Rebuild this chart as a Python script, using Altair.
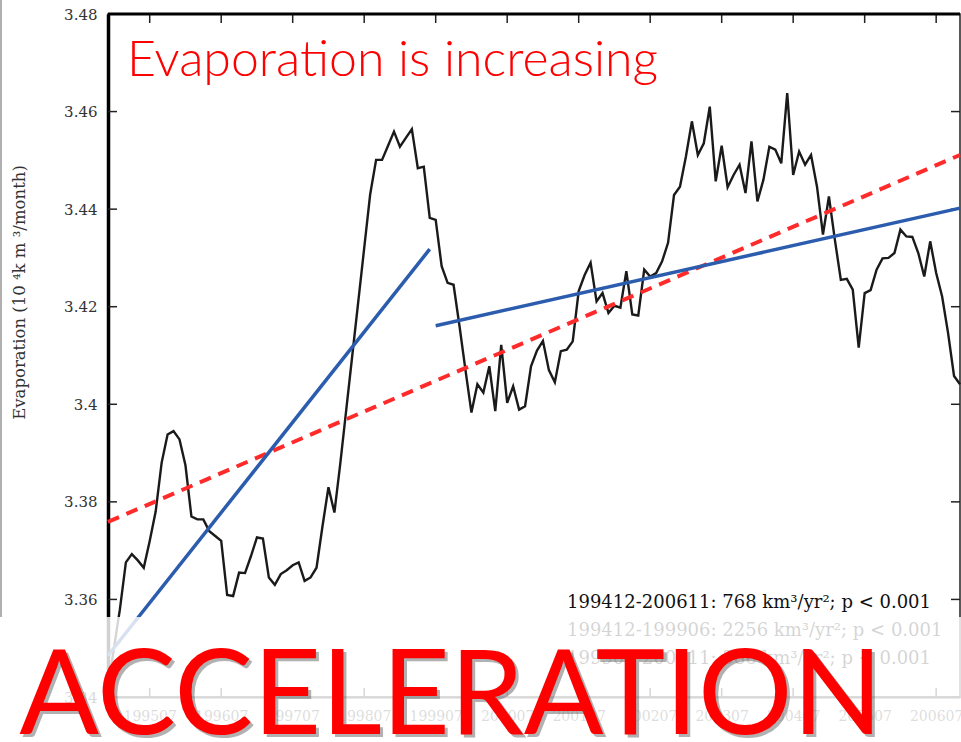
import altair as alt
import pandas as pd

# Monthly evaporation, 10^4 km^3/month, 1994-12 .. 2006-11 (index 0..143)
evaporation = [
    3.342, 3.350, 3.358, 3.3676, 3.3693, 3.368, 3.3665, 3.372, 3.378, 3.388,
    3.3938, 3.3945, 3.3928, 3.3875, 3.377, 3.3764, 3.3764, 3.374, 3.373, 3.372,
    3.3609, 3.3607, 3.3655, 3.3654, 3.3689, 3.3727, 3.3725, 3.3645, 3.363, 3.3652,
    3.366, 3.367, 3.3676, 3.3638, 3.3645, 3.3665, 3.375, 3.383, 3.3778, 3.388,
    3.399, 3.410, 3.421, 3.432, 3.443, 3.4501, 3.4501, 3.453, 3.4559, 3.4528,
    3.4546, 3.4564, 3.4484, 3.4487, 3.4382, 3.4378, 3.4283, 3.4249, 3.4245, 3.416,
    3.407, 3.3983, 3.4041, 3.4024, 3.4078, 3.3986, 3.4122, 3.4003, 3.4037, 3.3989,
    3.3996, 3.4078, 3.411, 3.413, 3.407, 3.4045, 3.4109, 3.4112, 3.4129, 3.4232,
    3.4265, 3.429, 3.4211, 3.4228, 3.4187, 3.4202, 3.4198, 3.4273, 3.4184, 3.4182,
    3.4276, 3.4262, 3.4269, 3.4293, 3.4331, 3.4429, 3.4446, 3.4508, 3.458, 3.4511,
    3.4535, 3.461, 3.4457, 3.453, 3.4445, 3.447, 3.4491, 3.4433, 3.4539, 3.4416,
    3.446, 3.4528, 3.4522, 3.4494, 3.4638, 3.447, 3.4518, 3.4491, 3.4511, 3.4446,
    3.4348, 3.4426, 3.4337, 3.4255, 3.4257, 3.4235, 3.4116, 3.4228, 3.4234, 3.4276,
    3.4299, 3.43, 3.431, 3.4358, 3.4344, 3.4343, 3.431, 3.4262, 3.4334, 3.4269,
    3.4221, 3.4146, 3.4058, 3.4041,
]
month_index = list(range(len(evaporation)))

# July of every year carries a tick
tick_positions = [7, 19, 31, 43, 55, 67, 79, 91, 103, 115, 127, 139]
tick_labels = ["199507", "199607", "199707", "199807", "199907", "200007",
               "200107", "200207", "200307", "200407", "200507", "200607"]
y_ticks = [3.34, 3.36, 3.38, 3.40, 3.42, 3.44, 3.46, 3.48]

# Linear trends (start / end month index and fitted value)
trend_all_idx, trend_all_val = [0, 143], [3.3759, 3.4511]
trend_a_idx, trend_a_val = [0, 54], [3.3485, 3.4318]
trend_b_idx, trend_b_val = [55, 143], [3.4161, 3.4402]

stats_lines = [
    "199412-200611: 768 km³/yr²; p < 0.001",
    "199412-199906: 2256 km³/yr²; p < 0.001",
    "199907-200611: 386 km³/yr²; p < 0.001",
]

W, H = 852, 683
SERIF = "DejaVu Serif"
SANS = "Lato"

xs = alt.Scale(domain=[0, 143], nice=False, zero=False)
ys = alt.Scale(domain=[3.34, 3.48], nice=False, zero=False)

label_array = "[" + ",".join(f"'{t}'" for t in tick_labels) + "]"

# One axis definition shared by every layer, so the layered axes merge cleanly
x_axis = alt.Axis(
    values=tick_positions,
    labelExpr=f"{label_array}[floor((datum.value - 7) / 12)]",
    labelFont=SERIF, labelFontSize=14, labelColor="#444",
    labelPadding=12, ticks=False, domain=True, domainColor="#222",
    domainWidth=2, grid=False, title="")
y_axis = alt.Axis(
    values=y_ticks, format=".2~f",
    labelFont=SERIF, labelFontSize=15, labelColor="#333",
    labelPadding=11, ticks=False, domain=True, domainColor="black",
    domainWidth=3.5, grid=False,
    title="Evaporation (10 ⁴k m ³/month)", titleFont=SERIF,
    titleFontSize=16.5, titleFontWeight="normal", titleColor="#333",
    titleAngle=-90, titleX=-89, titleY=278, titleAlign="center",
    titleBaseline="middle")


def X(field):
    return alt.X(f"{field}:Q", scale=xs, axis=x_axis)


def Y(field):
    return alt.Y(f"{field}:Q", scale=ys, axis=y_axis)


series = pd.DataFrame({"idx": month_index, "v": evaporation})
line = alt.Chart(series).mark_line(color="#1a1a1a", strokeWidth=2.4).encode(
    x=X("idx"), y=Y("v"))


def trend(idx, val, **style):
    df = pd.DataFrame({"idx": idx, "v": val})
    return alt.Chart(df).mark_line(**style).encode(x=X("idx"), y=Y("v"))


trend_all = trend(trend_all_idx, trend_all_val, color="#ff2b2b",
                  strokeWidth=4, strokeDash=[12, 8])
trend_a = trend(trend_a_idx, trend_a_val, color="#2b5cad", strokeWidth=3.5)
trend_b = trend(trend_b_idx, trend_b_val, color="#2b5cad", strokeWidth=3.5)

# Inward tick marks on all four sides of the frame
yt = pd.DataFrame({"v": y_ticks})
xt = pd.DataFrame({"idx": tick_positions})
tick_style = dict(color="#222", strokeWidth=1.5)
ticks_left = alt.Chart(yt).mark_rule(**tick_style).encode(
    y=Y("v"), x=alt.value(0), x2=alt.value(9))
ticks_right = alt.Chart(yt).mark_rule(**tick_style).encode(
    y=Y("v"), x=alt.value(W - 9), x2=alt.value(W))
ticks_top = alt.Chart(xt).mark_rule(**tick_style).encode(
    x=X("idx"), y=alt.value(0), y2=alt.value(9))
ticks_bottom = alt.Chart(xt).mark_rule(**tick_style).encode(
    x=X("idx"), y=alt.value(H - 9), y2=alt.value(H))

one = pd.DataFrame({"k": [0]})

top_border = alt.Chart(one).mark_rule(color="black", strokeWidth=3).encode(
    x=alt.value(0), x2=alt.value(W), y=alt.value(0))

stats = alt.Chart(one).mark_text(
    font=SERIF, fontSize=18, color="#111", align="left", baseline="top",
    lineHeight=28,
).encode(x=alt.value(459), y=alt.value(580), text=alt.value(stats_lines))

headline = alt.Chart(one).mark_text(
    font=SANS, fontSize=50, fontWeight=300, color="#ff0000", align="left",
    baseline="alphabetic",
).encode(x=alt.value(19), y=alt.value(62), text=alt.value("Evaporation is increasing"))

edge = alt.Chart(one).mark_rule(color="#b0b0b0", strokeWidth=2).encode(
    x=alt.value(-107), y=alt.value(-14), y2=alt.value(603))

veil = alt.Chart(one).mark_rect(color="white", opacity=0.82).encode(
    x=alt.value(-108), x2=alt.value(W + 1), y=alt.value(603), y2=alt.value(H + 45))

shadow = alt.Chart(one).mark_text(
    font=SANS, fontSize=118, color="#555", opacity=0.45, align="center",
    baseline="alphabetic",
).encode(x=alt.value(346), y=alt.value(723), text=alt.value("ACCELERATION"))

big = alt.Chart(one).mark_text(
    font=SANS, fontSize=118, color="#ff0000", align="center",
    baseline="alphabetic",
).encode(x=alt.value(343), y=alt.value(720), text=alt.value("ACCELERATION"))

chart = alt.layer(
    line, ticks_left, ticks_right, ticks_top, ticks_bottom, top_border,
    trend_all, trend_a, trend_b, stats, headline, edge,
    veil, shadow, big,
).properties(
    width=W, height=H,
    autosize=alt.AutoSizeParams(type="none"),
    padding={"left": 108, "top": 14, "right": 1, "bottom": 45},
    background="white",
).configure_view(stroke="#222", strokeWidth=1.5)

chart.save("out.html", embed_options={"renderer": "svg", "actions": False})
